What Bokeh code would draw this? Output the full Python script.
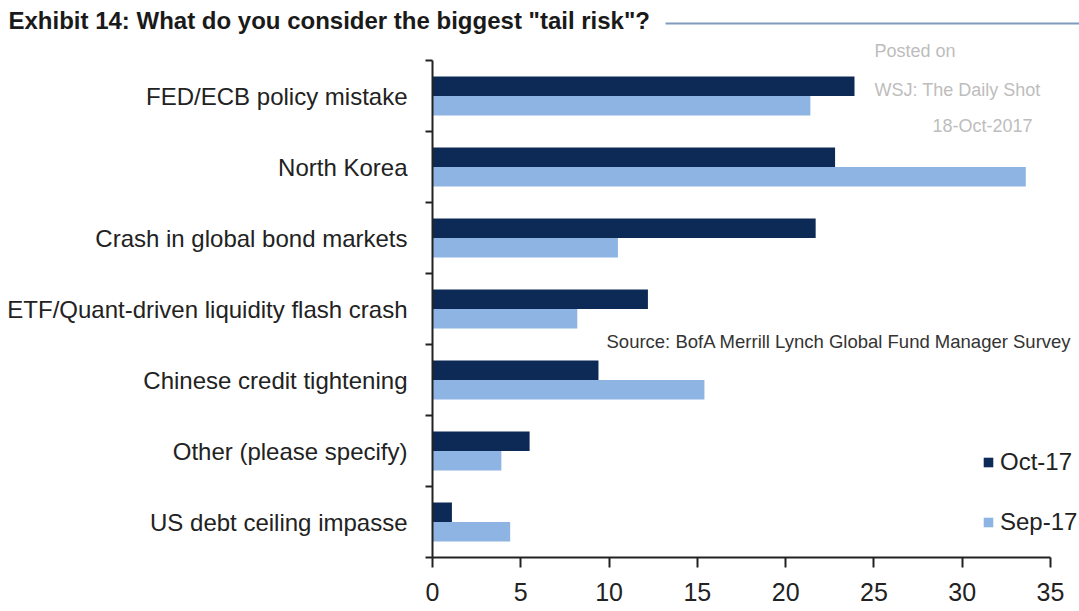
from bokeh.plotting import figure
from bokeh.models import (ColumnDataSource, Range1d, FixedTicker, Legend, LegendItem,
                          Label, Arrow)
from bokeh.transform import dodge
from bokeh.embed import file_html
from bokeh.resources import INLINE

categories = ["FED/ECB policy mistake", "North Korea", "Crash in global bond markets",
              "ETF/Quant-driven liquidity flash crash", "Chinese credit tightening",
              "Other (please specify)", "US debt ceiling impasse"]
oct17 = [23.9, 22.8, 21.7, 12.2, 9.4, 5.5, 1.1]
sep17 = [21.4, 33.6, 10.5, 8.2, 15.4, 3.9, 4.4]
x_ticks = [0, 5, 10, 15, 20, 25, 30, 35]
series_names = ["Oct-17", "Sep-17"]
title_text = 'Exhibit 14: What do you consider the biggest "tail risk"?'
source_text = "Source: BofA Merrill Lynch Global Fund Manager Survey"
watermark = ["Posted on", "WSJ: The Daily Shot", "18-Oct-2017"]

FONT = "Liberation Sans"
DARK = "#0c2a55"
LIGHT = "#8db4e2"
TXT = "#222222"

# ---- layout (page pixels; Bokeh's page template has no body margin) ----
W, H = 1079, 611
FRAME_L, FRAME_R, FRAME_T, FRAME_B = 432, W, 21, 557
CAT_TOP = 60          # top of the category block
X_AXIS_END = 1050     # pixel of the last x tick

n = len(categories)
x_max = x_ticks[-1]
x_end = x_max * (FRAME_R - FRAME_L) / (X_AXIS_END - FRAME_L)
y_end = n * (FRAME_B - FRAME_T) / (FRAME_B - CAT_TOP)

ypos = [n - 0.5 - i for i in range(n)]
src = ColumnDataSource(dict(cat=categories, y=ypos, oct=oct17, sep=sep17))

p = figure(width=W, height=H, x_range=Range1d(0, x_end), y_range=Range1d(0, y_end),
           output_backend="svg", toolbar_location=None,
           min_border_left=FRAME_L, min_border_right=W - FRAME_R,
           min_border_top=FRAME_T, min_border_bottom=H - FRAME_B)
p.background_fill_color = "white"
p.border_fill_color = "white"
p.outline_line_color = None
p.xgrid.grid_line_color = None
p.ygrid.grid_line_color = None

bar_h = 0.275
r_oct = p.hbar(y=dodge("y", bar_h / 2), right="oct", left=0, height=bar_h, source=src,
               fill_color=DARK, line_color=None)
r_sep = p.hbar(y=dodge("y", -bar_h / 2), right="sep", left=0, height=bar_h, source=src,
               fill_color=LIGHT, line_color=None)

# x axis
xa = p.xaxis[0]
xa.ticker = FixedTicker(ticks=x_ticks, minor_ticks=[])
xa.bounds = (0, x_max)
xa.axis_line_color = TXT
xa.axis_line_width = 2
xa.major_tick_line_color = TXT
xa.major_tick_line_width = 2
xa.major_tick_in = 0
xa.major_tick_out = 10
xa.minor_tick_line_color = None
xa.major_label_text_font = FONT
xa.major_label_text_font_size = "25px"
xa.major_label_text_color = TXT
xa.major_label_standoff = 15

# y axis
ya = p.yaxis[0]
ya.ticker = FixedTicker(ticks=ypos, minor_ticks=list(range(n + 1)))
ya.bounds = (0, n)
ya.major_label_overrides = {y: c for y, c in zip(ypos, categories)}
ya.axis_line_color = TXT
ya.axis_line_width = 2
ya.major_tick_line_color = None
ya.major_tick_in = 0
ya.major_tick_out = 0
ya.minor_tick_line_color = TXT
ya.minor_tick_line_width = 2
ya.minor_tick_in = 0
ya.minor_tick_out = 7
ya.major_label_text_font = FONT
ya.major_label_text_font_size = "24px"
ya.major_label_text_color = TXT
ya.major_label_standoff = 18

# title (in the side panel, shifted to the page's left edge)
p.title.text = title_text
p.title.text_font = FONT
p.title.text_font_size = "24px"
p.title.text_font_style = "bold"
p.title.text_color = "#1a1a1a"
p.title.align = "left"
p.title.offset = 8 - FRAME_L
p.title.standoff = -25

# legend
legend = Legend(items=[LegendItem(label=series_names[0], renderers=[r_oct]),
                       LegendItem(label=series_names[1], renderers=[r_sep])],
                location=(550, 21), orientation="vertical",
                label_text_font=FONT, label_text_font_size="24px", label_text_color=TXT,
                glyph_width=12, glyph_height=12, label_standoff=6, spacing=32,
                padding=0, margin=0, border_line_color=None, background_fill_alpha=0)
p.add_layout(legend)


def sx(px):
    return px - FRAME_L


def sy(py):
    return FRAME_B - py


p.add_layout(Arrow(x_start=sx(665), y_start=sy(23), x_end=sx(FRAME_R), y_end=sy(23),
                   start_units="screen", end_units="screen", start=None, end=None,
                   line_color="#7f9cbb", line_width=2))

for txt, px, py in zip(watermark, [874, 874, 932], [50, 89, 125]):
    p.add_layout(Label(x=sx(px), y=sy(py), x_units="screen", y_units="screen", text=txt,
                       text_font=FONT, text_font_size="18px", text_color="#bdbdbd",
                       text_baseline="middle", text_align="left"))

p.add_layout(Label(x=sx(606), y=sy(341), x_units="screen", y_units="screen",
                   text=source_text, text_font=FONT, text_font_size="18.5px",
                   text_color="#333333", text_baseline="middle", text_align="left"))

open("out.html", "w").write(file_html(p, INLINE))
